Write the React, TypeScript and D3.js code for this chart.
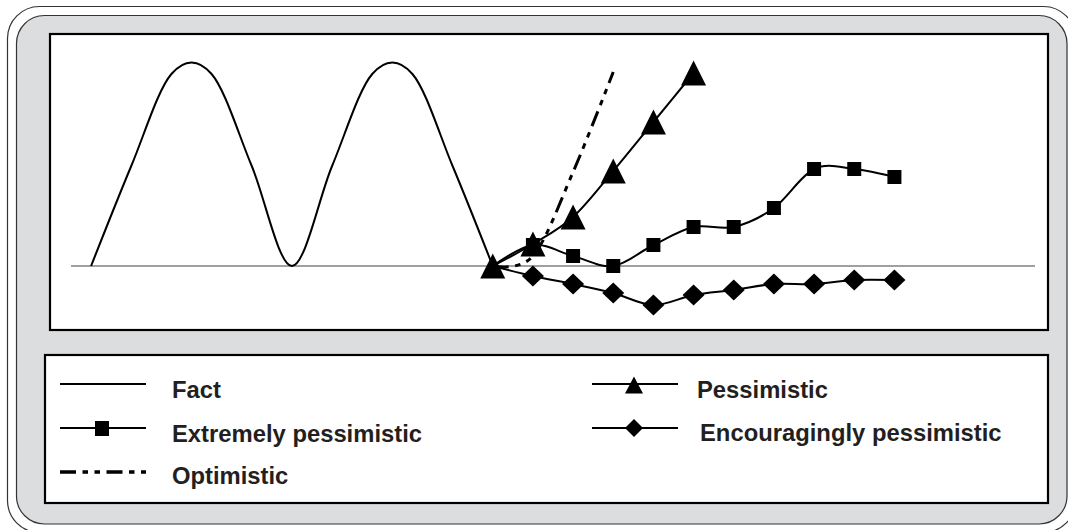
import React from "react";
import * as d3 from "d3";

// ---- data ----
const periods = [1, 2, 3, 4, 5, 6, 7, 8, 9, 10, 11, 12, 13, 14, 15, 16, 17, 18, 19, 20, 21, 22, 23, 24];
type V = number | null;
const fact: V[] = [0, 50, 96, 96, 50, 0, 50, 96, 96, 50, 0, null, null, null, null, null, null, null, null, null, null, null, null, null];
const pessimistic: V[] = [null, null, null, null, null, null, null, null, null, null, 0, 11, 24.5, 47.5, 72, 96.5, null, null, null, null, null, null, null, null];
const extremelyPessimistic: V[] = [null, null, null, null, null, null, null, null, null, null, 0, 10.5, 5, 0, 10.5, 19.5, 19.5, 29, 48.5, 48.5, 44.5, null, null, null];
const encouraginglyPessimistic: V[] = [null, null, null, null, null, null, null, null, null, null, 0, -5, -9, -13.5, -19.5, -14.5, -12, -9, -9, -7, -7, null, null, null];
const optimistic: V[] = [null, null, null, null, null, null, null, null, null, null, 0, 5, 47, 97, null, null, null, null, null, null, null, null, null, null];
const legendLabels = ["Fact", "Pessimistic", "Extremely pessimistic", "Encouragingly pessimistic", "Optimistic"];

const W = 1068;
const H = 530;

export default function App() {
  const x = d3.scalePoint<number>().domain(periods).range([71, 1035]).padding(0.5);
  const y = d3.scaleLinear().domain([-32, 116]).range([330, 34]);

  const pts = (arr: V[]) =>
    arr
      .map((v, i) => (v === null ? null : ([x(periods[i]) as number, y(v)] as [number, number])))
      .filter((p): p is [number, number] => p !== null);

  const line = d3.line<[number, number]>().x((d) => d[0]).y((d) => d[1]).curve(d3.curveCardinal.tension(0));

  const tri = (cx: number, cy: number, w: number, h: number) =>
    `M${cx},${cy - h / 2}L${cx + w / 2},${cy + h / 2}L${cx - w / 2},${cy + h / 2}Z`;
  const dia = (cx: number, cy: number, w: number, h: number) =>
    `M${cx},${cy - h / 2}L${cx + w / 2},${cy}L${cx},${cy + h / 2}L${cx - w / 2},${cy}Z`;

  const factPts = pts(fact);
  const pesPts = pts(pessimistic);
  const extPts = pts(extremelyPessimistic);
  const encPts = pts(encouraginglyPessimistic);
  const optPts = pts(optimistic);

  const dashPattern = "16 6.5 5.5 6.5 5.5 6.5";
  const textStyle: React.CSSProperties = {
    fontFamily: "'Liberation Sans', Arial, sans-serif",
    fontWeight: 700,
    fontSize: 23.8,
    fill: "#231f20",
  };

  const zeroY = y(0);

  return (
    <div style={{ position: "absolute", left: 0, top: 0 }}>
      <svg width={W} height={H} style={{ display: "block" }}>
        <rect x={0} y={0} width={W} height={H} fill="#ffffff" />
        {/* outer frame */}
        <rect x={7.5} y={6.5} width={1068} height={526} rx={32} ry={32} fill="#ffffff" stroke="#333" strokeWidth={1.2} />
        {/* gray panel */}
        <rect x={16.5} y={15.5} width={1050.5} height={508.5} rx={28} ry={28} fill="#dcdddf" stroke="#333" strokeWidth={1.2} />
        {/* plot area */}
        <rect x={50} y={34} width={998} height={296} fill="#ffffff" stroke="#000" strokeWidth={2.2} />
        {/* category axis line */}
        <line x1={71} x2={1035} y1={zeroY} y2={zeroY} stroke="#808080" strokeWidth={1.5} />

        {/* series lines */}
        <path d={line(factPts) || ""} fill="none" stroke="#000" strokeWidth={2} />
        <path d={line(extPts) || ""} fill="none" stroke="#000" strokeWidth={2} />
        <path d={line(encPts) || ""} fill="none" stroke="#000" strokeWidth={2} />
        <path d={line(pesPts) || ""} fill="none" stroke="#000" strokeWidth={2} />
        <path d={line(optPts) || ""} fill="none" stroke="#000" strokeWidth={3} strokeDasharray={dashPattern} />

        {/* markers */}
        {extPts.slice(1).map((p, i) => (
          <rect key={"s" + i} x={p[0] - 7} y={p[1] - 7} width={14} height={14} fill="#000" />
        ))}
        {encPts.slice(1).map((p, i) => (
          <path key={"d" + i} d={dia(p[0], p[1], 22, 21)} fill="#000" />
        ))}
        {pesPts.map((p, i) => (
          <path key={"t" + i} d={tri(p[0], p[1], 25, 25)} fill="#000" />
        ))}

        {/* legend */}
        <rect x={45} y={355} width={1003} height={148} fill="#ffffff" stroke="#000" strokeWidth={2.2} />
        {/* Fact */}
        <line x1={60} x2={146} y1={384} y2={384} stroke="#000" strokeWidth={2} />
        <text x={172} y={398} style={textStyle}>{legendLabels[0]}</text>
        {/* Extremely pessimistic */}
        <line x1={60} x2={146} y1={428} y2={428} stroke="#000" strokeWidth={2} />
        <rect x={95} y={421} width={14} height={15} fill="#000" />
        <text x={172} y={442} style={textStyle}>{legendLabels[2]}</text>
        {/* Optimistic */}
        <line x1={60} x2={146} y1={472} y2={472} stroke="#000" strokeWidth={3.5} strokeDasharray={dashPattern} />
        <text x={172} y={483.5} style={textStyle}>{legendLabels[4]}</text>
        {/* Pessimistic */}
        <line x1={592} x2={678} y1={384} y2={384} stroke="#000" strokeWidth={2} />
        <path d={tri(634, 385, 18, 17)} fill="#000" />
        <text x={697} y={398} style={textStyle}>{legendLabels[1]}</text>
        {/* Encouragingly pessimistic */}
        <line x1={592} x2={678} y1={428} y2={428} stroke="#000" strokeWidth={2} />
        <path d={dia(634, 428, 18, 18)} fill="#000" />
        <text x={700} y={441} style={textStyle}>{legendLabels[3]}</text>
      </svg>
    </div>
  );
}
